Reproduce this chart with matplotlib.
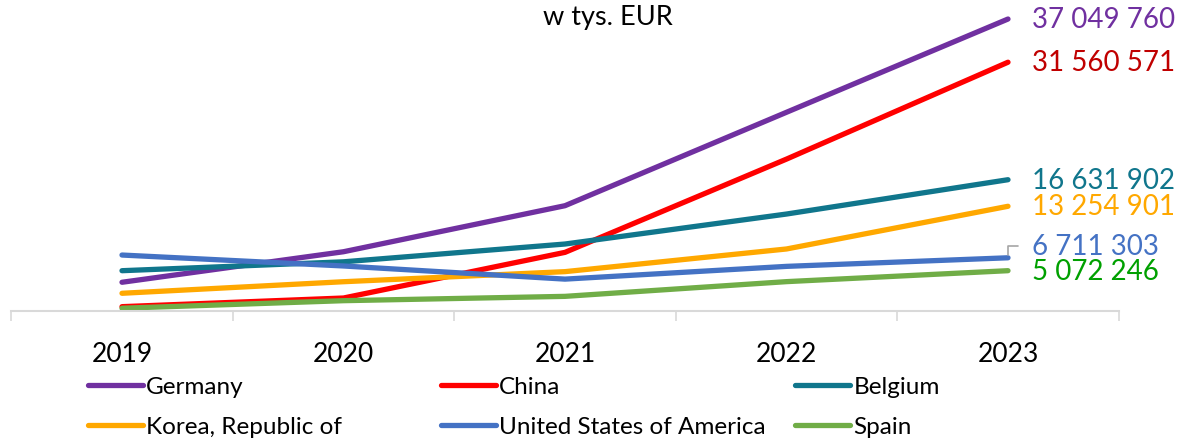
import numpy as np
import matplotlib.pyplot as plt

plt.rcParams['font.family'] = ['Lato', 'DejaVu Sans']

years = ['2019', '2020', '2021', '2022', '2023']
countries = ['Germany', 'China', 'Belgium', 'Korea, Republic of',
             'United States of America', 'Spain']
# values in mln EUR, last point = labelled value
germany = [3.6, 7.48, 13.33, 25.2, 37.04976]
china = [0.5, 1.6, 7.4, 19.25, 31.560571]
belgium = [5.07, 6.2, 8.46, 12.27, 16.631902]
korea = [2.2, 3.67, 4.95, 7.83, 13.254901]
usa = [7.06, 5.67, 4.0, 5.62, 6.711303]
spain = [0.3, 1.26, 1.81, 3.68, 5.072246]
end_labels = ['37 049 760', '31 560 571', '16 631 902', '13 254 901', '6 711 303', '5 072 246']

series = [germany, china, belgium, korea, usa, spain]
line_colors = ['#7030A0', '#FF0000', '#10768C', '#FFA800', '#4472C4', '#70AD47']
label_colors = ['#7030A0', '#C00000', '#10768C', '#FFA800', '#4472C4', '#00A000']

W, H = 1178, 439
fig = plt.figure(figsize=(W / 100, H / 100), dpi=100)
ax = fig.add_axes([11.25 / W, 127.4 / H, 1107.5 / W, 314.8 / H])

x = np.arange(len(years))
handles = []
for vals, c, lc, lab, name in zip(series, line_colors, label_colors, end_labels, countries):
    h, = ax.plot(x, vals, color=c, lw=3.8, solid_capstyle='round',
                 solid_joinstyle='round', clip_on=False, label=name)
    handles.append(h)
    if name == 'United States of America':
        ax.annotate(lab, xy=(x[-1], vals[-1]), xytext=(17.3, 8.5),
                    textcoords='offset points', ha='left', va='center',
                    color=lc, fontsize=20,
                    arrowprops=dict(arrowstyle='-', color='#A6A6A6', lw=1.2,
                                    connectionstyle='angle,angleA=180,angleB=90,rad=0',
                                    shrinkA=8, shrinkB=2))
    else:
        ax.annotate(lab, xy=(x[-1], vals[-1]), xytext=(17.3, 0),
                    textcoords='offset points', ha='left', va='center',
                    color=lc, fontsize=20)

ax.set_xlim(-0.5, 4.5)
ax.set_ylim(0, 40)
ax.set_yticks([])
ax.set_xticks(x)
ax.set_xticklabels(years, fontsize=19)
ax.set_xticks(np.arange(-0.5, 5, 1), minor=True)
ax.tick_params(axis='x', which='major', length=0, pad=22)
ax.tick_params(axis='x', which='minor', length=7.5, width=1.2, color='#D9D9D9', direction='out')
for s in ['top', 'left', 'right']:
    ax.spines[s].set_visible(False)
ax.spines['bottom'].set_color('#D9D9D9')
ax.spines['bottom'].set_linewidth(1.5)

fig.text(608 / W, 1 - 18 / H, 'w tys. EUR', ha='center', va='center', fontsize=19.5)

# legend: three columns of two rows each
col_x = [88, 441, 795]
for i, cx in enumerate(col_x):
    leg = fig.legend([handles[i], handles[i + 3]], [countries[i], countries[i + 3]],
                     loc='upper left', bbox_to_anchor=(cx / W, 1 - 377 / H),
                     frameon=False, fontsize=17.5, handlelength=2.25, handletextpad=0.15,
                     borderpad=0, borderaxespad=0, labelspacing=0.8)

fig.savefig('out.png', dpi=100)
